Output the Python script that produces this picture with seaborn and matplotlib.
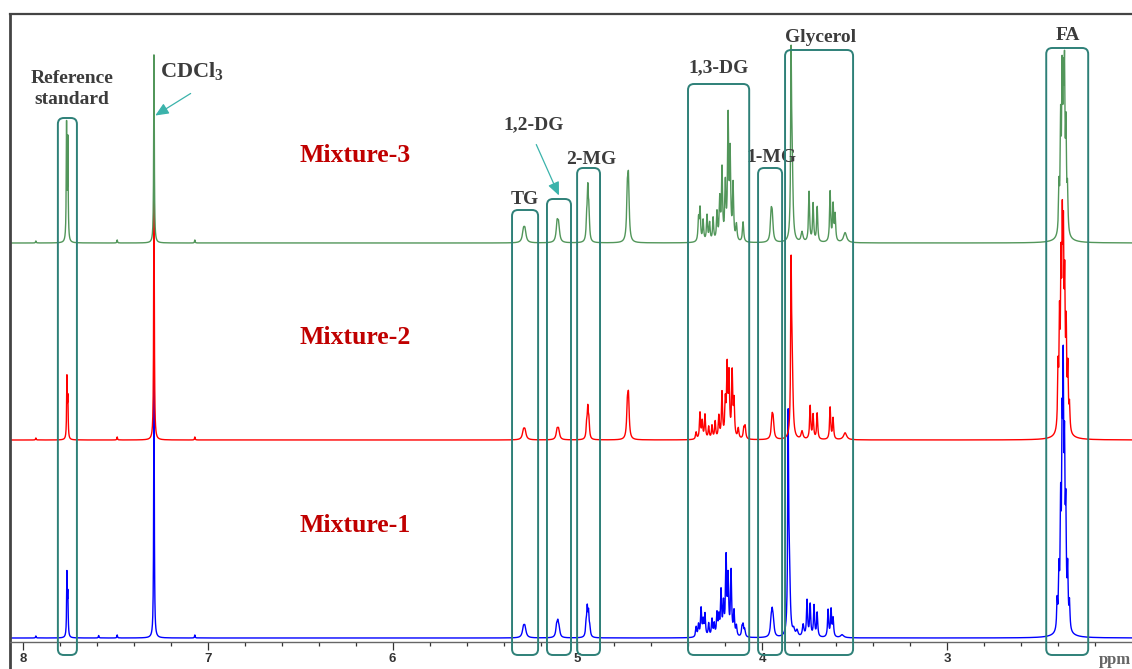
import numpy as np
import pandas as pd
import seaborn as sns
import matplotlib.pyplot as plt
from matplotlib.patches import FancyBboxPatch
from matplotlib.transforms import IdentityTransform

sns.set_style("white")
plt.rcParams['font.family'] = ['Liberation Serif', 'DejaVu Serif']
plt.rcParams['mathtext.fontset'] = 'custom'
plt.rcParams['mathtext.rm'] = 'Liberation Serif:bold'
plt.rcParams['mathtext.bf'] = 'Liberation Serif:bold'

# ---- peak tables (ppm, height, half width) ----
# Mixture-1 (blue)
m1_pos = [7.93, 7.762, 7.757, 7.59, 7.49, 7.291, 7.07,
          5.292, 5.284, 5.113, 5.106, 5.099, 4.953, 4.947, 4.940, 4.933,
          4.358, 4.345, 4.331, 4.320, 4.310, 4.290, 4.272, 4.260, 4.245, 4.235,
          4.223, 4.210, 4.196, 4.185, 4.169, 4.153, 4.140, 4.110, 4.104, 4.095,
          3.952, 3.946, 3.940,
          3.860, 3.853, 3.830, 3.812, 3.779, 3.758, 3.741, 3.720, 3.703,
          3.644, 3.628, 3.617, 3.568,
          2.405, 2.395, 2.386, 2.378, 2.372, 2.365, 2.358, 2.348, 2.338, 2.37]
m1_hgt = [2, 62, 40, 2.5, 3, 265, 3,
          9, 9, 10, 13, 7, 12, 26, 22, 8,
          10, 12, 28, 15, 22, 13, 17, 12, 22, 18,
          44, 30, 76, 56, 64, 24, 10, 8, 11, 7,
          14, 20, 11,
          210, 55, 6, 6, 12, 36, 32, 31, 24,
          27, 27, 18, 3,
          28, 52, 112, 165, 222, 150, 102, 56, 26, 3]
m1_wid = [0.002, 0.002, 0.002, 0.002, 0.002, 0.002, 0.002,
          0.007, 0.007, 0.005, 0.005, 0.005, 0.0035, 0.0035, 0.0035, 0.0035,
          0.0035, 0.0035, 0.0035, 0.0035, 0.0035, 0.0035, 0.0035, 0.0035, 0.0035, 0.0035,
          0.0035, 0.0035, 0.0035, 0.0035, 0.0035, 0.0035, 0.0035, 0.0035, 0.004, 0.004,
          0.005, 0.005, 0.005,
          0.003, 0.005, 0.006, 0.006, 0.005, 0.0035, 0.0035, 0.0035, 0.0035,
          0.0035, 0.0035, 0.0035, 0.01,
          0.003, 0.003, 0.003, 0.003, 0.003, 0.003, 0.003, 0.003, 0.003, 0.05]

# Mixture-2 (red)
m2_pos = [7.93, 7.762, 7.757, 7.49, 7.291, 7.07,
          5.292, 5.284, 5.110, 5.102, 4.950, 4.944, 4.938, 4.730, 4.724,
          4.358, 4.337, 4.325, 4.310, 4.290, 4.272, 4.255, 4.235, 4.218, 4.200,
          4.190, 4.180, 4.163, 4.153, 4.130, 4.100, 4.093,
          3.947, 3.941,
          3.844, 3.838, 3.785, 3.741, 3.725, 3.703, 3.633, 3.617, 3.552,
          2.400, 2.392, 2.384, 2.377, 2.371, 2.364, 2.356, 2.347, 2.338, 2.37]
m2_hgt = [2, 60, 38, 3, 275, 3,
          8, 8, 9, 9, 14, 28, 16, 30, 38,
          7, 26, 17, 24, 12, 13, 17, 22, 45, 34,
          68, 60, 64, 35, 10, 10, 12,
          20, 16,
          160, 60, 8, 33, 24, 26, 32, 21, 7,
          58, 100, 142, 170, 158, 126, 92, 58, 25, 3]
m2_wid = [0.002, 0.002, 0.002, 0.002, 0.002, 0.002,
          0.007, 0.007, 0.006, 0.006, 0.0035, 0.0035, 0.0035, 0.0045, 0.0045,
          0.0035, 0.0035, 0.0035, 0.0035, 0.0035, 0.0035, 0.0035, 0.0035, 0.0035, 0.0035,
          0.0035, 0.0035, 0.0035, 0.0035, 0.004, 0.004, 0.004,
          0.005, 0.005,
          0.003, 0.005, 0.006, 0.0035, 0.0035, 0.0035, 0.0035, 0.0035, 0.01,
          0.003, 0.003, 0.003, 0.003, 0.003, 0.003, 0.003, 0.003, 0.003, 0.05]

# Mixture-3 (green)
m3_pos = [7.93, 7.764, 7.757, 7.49, 7.291, 7.07,
          5.292, 5.284, 5.110, 5.102, 4.950, 4.944, 4.938, 4.730, 4.724,
          4.345, 4.337, 4.320, 4.299, 4.285, 4.266, 4.245, 4.230, 4.218, 4.200,
          4.185, 4.174, 4.158, 4.140, 4.104,
          3.952, 3.946,
          3.844, 3.838, 3.785, 3.747, 3.725, 3.703, 3.633, 3.617, 3.606, 3.552,
          2.395, 2.386, 2.378, 2.371, 2.365, 2.357, 2.349, 2.37]
m3_hgt = [2, 115, 100, 3, 190, 3,
          11, 11, 18, 16, 20, 48, 28, 45, 55,
          22, 32, 21, 26, 18, 23, 28, 40, 70, 54,
          120, 84, 55, 16, 20,
          26, 22,
          172, 62, 10, 50, 38, 35, 50, 36, 26, 10,
          45, 105, 142, 122, 142, 96, 40, 3]
m3_wid = [0.002, 0.002, 0.002, 0.002, 0.002, 0.002,
          0.007, 0.007, 0.006, 0.006, 0.0035, 0.0035, 0.0035, 0.0045, 0.0045,
          0.0035, 0.0035, 0.0035, 0.0035, 0.0035, 0.0035, 0.0035, 0.0035, 0.0035, 0.0035,
          0.0035, 0.0035, 0.0035, 0.004, 0.004,
          0.005, 0.005,
          0.003, 0.005, 0.006, 0.0035, 0.0035, 0.0035, 0.0035, 0.0035, 0.0035, 0.01,
          0.003, 0.003, 0.003, 0.003, 0.003, 0.003, 0.003, 0.05]

samples = ['Mixture-1', 'Mixture-2', 'Mixture-3']
offsets = [0, 198, 395]
line_colors = ['#0000ff', '#ff0000', '#52965a']
label_y = [113, 300, 483]

# annotated regions: (label, left ppm, right ppm, top)
regions = [('Reference\nstandard', 7.811, 7.708, 520),
           ('TG', 5.354, 5.213, 428),
           ('1,2-DG', 5.165, 5.035, 439),
           ('2-MG', 5.002, 4.878, 470),
           ('1,3-DG', 4.402, 4.071, 554),
           ('1-MG', 4.023, 3.893, 470),
           ('Glycerol', 3.877, 3.509, 588),
           ('FA', 2.464, 2.237, 590)]

ppm = np.arange(2.0, 8.07, 0.0004)


def spectrum(pos, hgt, wid):
    y = np.zeros_like(ppm)
    for p, h, w in zip(pos, hgt, wid):
        y += h * w ** 2 / ((ppm - p) ** 2 + w ** 2)
    return y


tables = [(m1_pos, m1_hgt, m1_wid), (m2_pos, m2_hgt, m2_wid), (m3_pos, m3_hgt, m3_wid)]
frames = []
for name, off, (p, h, w) in zip(samples, offsets, tables):
    frames.append(pd.DataFrame({'ppm': ppm, 'intensity': spectrum(p, h, w) + off, 'sample': name}))
df = pd.concat(frames, ignore_index=True)

fig = plt.figure(figsize=(11.32, 6.69), dpi=100)
ax = fig.add_axes([10 / 1132, 0, 1 - 10 / 1132, 655 / 669])

sns.lineplot(data=df, x='ppm', y='intensity', hue='sample', hue_order=samples,
             palette=line_colors, estimator=None, sort=False, legend=False,
             linewidth=1.0, ax=ax)

ax.set_xlim(8.07, 2.0)
ax.set_ylim(-31, 624)
ax.set_xlabel('')
ax.set_ylabel('')
ax.set_yticks([])

# frame
ax.spines['right'].set_visible(False)
ax.spines['left'].set_color('#444444')
ax.spines['left'].set_linewidth(2.0)
ax.spines['top'].set_color('#444444')
ax.spines['top'].set_linewidth(1.6)
ax.spines['bottom'].set_position(('data', -4))
ax.spines['bottom'].set_color('#666666')
ax.spines['bottom'].set_linewidth(1.0)

major = np.arange(3, 9)
ax.set_xticks(major)
ax.set_xticklabels([str(v) for v in major], fontweight='bold',
                   family=['Liberation Sans', 'DejaVu Sans'], fontsize=9.5)
ax.set_xticks(np.arange(2.2, 8.01, 0.2), minor=True)
ax.tick_params(axis='x', which='both', bottom=True)
ax.tick_params(axis='x', which='major', direction='out', length=6, width=0.9,
               colors='#333333', pad=2)
ax.tick_params(axis='x', which='minor', direction='out', length=3, width=0.9,
               colors='#333333')
ax.text(2.09, -22, 'ppm', ha='center', va='center', fontsize=12,
        fontweight='bold', color='#666666')

# mixture names
for name, yy in zip(samples, label_y):
    ax.text(6.203, yy, name, ha='center', va='center', fontsize=18.5,
            fontweight='bold', color='#c00000')

fig.canvas.draw()

# rounded boxes around the assigned regions
box_color = '#2e8078'
label_color = '#3c3c3c'
for lab, left, right, top in regions:
    x0, y0 = ax.transData.transform((left, -17))
    x1, y1 = ax.transData.transform((right, top))
    patch = FancyBboxPatch((x0, y0), x1 - x0, y1 - y0,
                           boxstyle='round,pad=0,rounding_size=6',
                           transform=IdentityTransform(), fill=False,
                           edgecolor=box_color, linewidth=1.4, zorder=5)
    fig.add_artist(patch)

ax.text(7.735, 549, 'Reference\nstandard', ha='center', va='center',
        fontsize=14, fontweight='bold', color=label_color, linespacing=1.3)
ax.text(7.085, 566, 'CDCl$_3$', ha='center', va='center', fontsize=16,
        fontweight='bold', color=label_color)
ax.text(5.284, 438, 'TG', ha='center', va='center', fontsize=14,
        fontweight='bold', color=label_color)
ax.text(5.235, 513, '1,2-DG', ha='center', va='center', fontsize=14,
        fontweight='bold', color=label_color)
ax.text(4.926, 479, '2-MG', ha='center', va='center', fontsize=14,
        fontweight='bold', color=label_color)
ax.text(4.239, 570, '1,3-DG', ha='center', va='center', fontsize=14,
        fontweight='bold', color=label_color)
ax.text(3.952, 481, '1-MG', ha='center', va='center', fontsize=14,
        fontweight='bold', color=label_color)
ax.text(3.687, 601, 'Glycerol', ha='center', va='center', fontsize=14,
        fontweight='bold', color=label_color)
ax.text(2.345, 603, 'FA', ha='center', va='center', fontsize=14,
        fontweight='bold', color=label_color)

arrow_kw = dict(arrowstyle='-|>,head_length=0.8,head_width=0.35',
                color='#3bb3ab', lw=0.9)
ax.annotate('', xy=(7.297, 521), xytext=(7.080, 546), arrowprops=arrow_kw)
ax.annotate('', xy=(5.094, 440), xytext=(5.229, 496), arrowprops=arrow_kw)

fig.savefig('out.png', dpi=100)
